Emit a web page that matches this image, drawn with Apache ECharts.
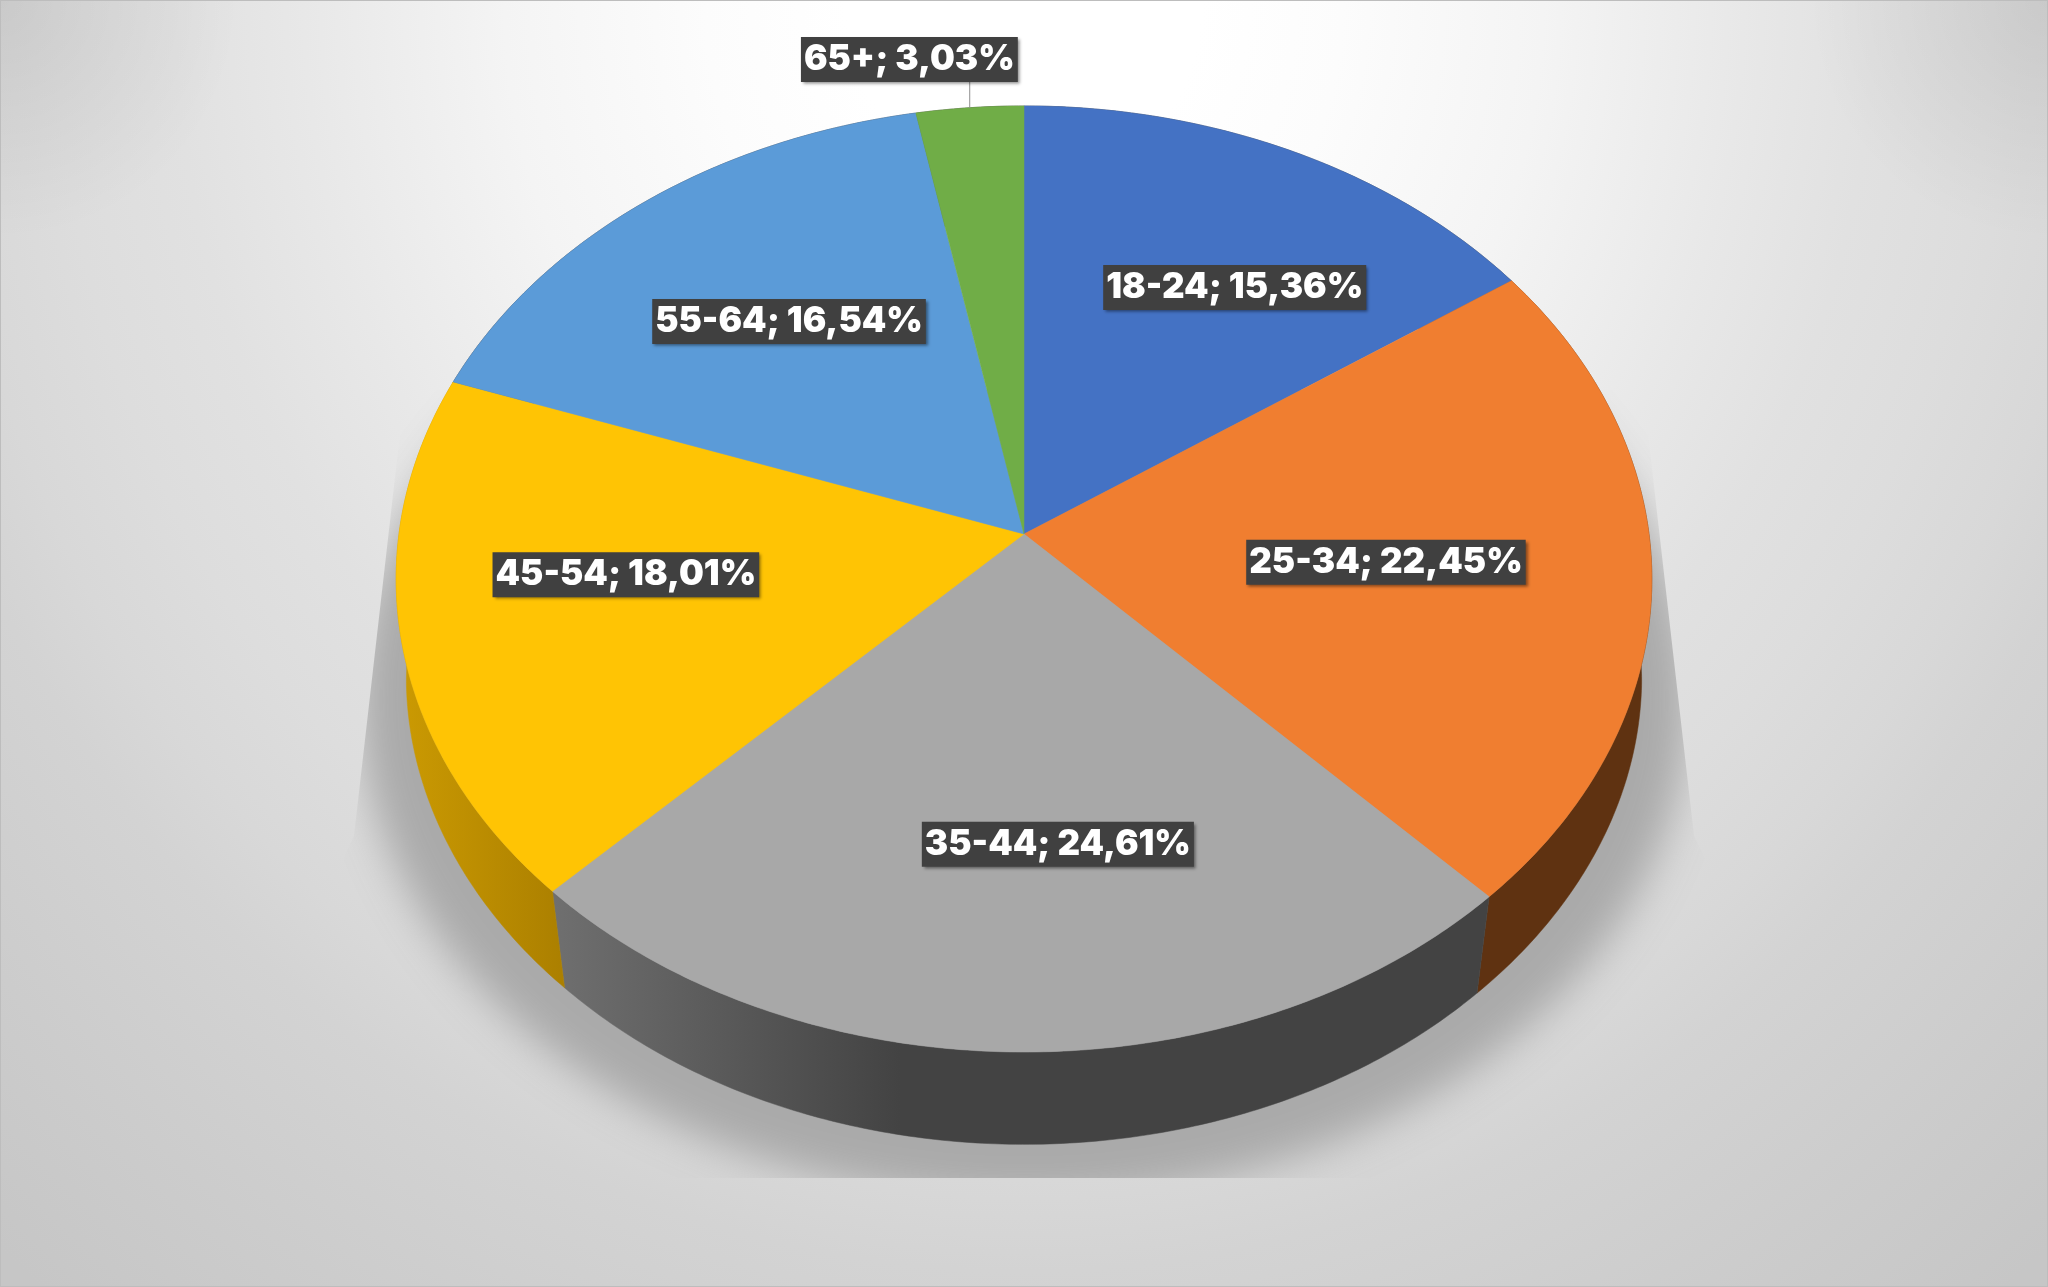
<!DOCTYPE html>
<html>
<head>
<meta charset="utf-8">
<style>
html,body{margin:0;padding:0;width:2048px;height:1287px;overflow:hidden}
#wrap{width:2048px;height:1287px;box-shadow:inset 0 0 0 1px #bdbdbd;
background:
radial-gradient(circle 240px at 0 0,rgba(0,0,0,.08),rgba(0,0,0,0)),
radial-gradient(circle 240px at 2048px 0,rgba(0,0,0,.08),rgba(0,0,0,0)),
radial-gradient(ellipse 1180px 1290px at 1024px 0px,#ffffff 0%,#ffffff 15%,#fcfcfc 27%,#f4f4f4 44%,#e8e8e8 61%,#e1e1e1 72%,#dddddd 82%,#d8d8d8 91.5%,#d3d3d3 98.5%,#cccccc 115%,#c6c6c6 130%)}
#chart{width:2048px;height:1287px}
</style>
<script src="https://cdn.jsdelivr.net/npm/echarts@6/dist/echarts.min.js"></script>
</head>
<body>
<div id="wrap"><div id="chart"></div></div>
<script>
// Data
const categories = ['18-24','25-34','35-44','45-54','55-64','65+'];
const shares = [15.36,22.45,24.61,18.01,16.54,3.03];

// Style
const topColors = ['#4472c4','#f07e30','#a8a8a8','#ffc404','#5b9bd8','#70ad47'];
const CX = 1024, CY = 534, AX = 625, AY = 418, PERSP = 0.0951;
const VPY = 4575, DEPTH = 0.0262;
// label centres on the disc plane (unit disc coordinates)
const labelSpots = [[0.355,-0.557],[0.576,0.057],[0.051,0.620],[-0.632,0.083],[-0.393,-0.477],[-0.203,-1.124]];

const chart = echarts.init(document.getElementById('chart'), null, {renderer:'canvas'});
const total = shares.reduce((a,b)=>a+b,0);
const cum = [0];
shares.forEach(v=>cum.push(cum[cum.length-1]+v));

function project(u,v){
  const d = 1 - PERSP*v;
  return [CX + AX*u/d, (AY*v + CY)/d];
}
function lower(p){
  const vv = Math.max(0,(p[1]-578)/473);
  const kx = DEPTH*Math.min(1,0.62+0.55*vv);
  return [p[0] + (CX-p[0])*kx, p[1] + (VPY-p[1])*DEPTH];
}
function rim(a){ return project(Math.sin(a), -Math.cos(a)); }
function arcPts(a0,a1){
  const n = Math.max(4, Math.ceil((a1-a0)/0.01));
  const out=[];
  for(let i=0;i<=n;i++) out.push(rim(a0+(a1-a0)*i/n));
  return out;
}
function angles(i){
  return [cum[i]/total*2*Math.PI, cum[i+1]/total*2*Math.PI];
}
function sideFill(i){
  if(i===1) return '#5f3211';
  if(i===2) return new echarts.graphic.LinearGradient(555,0,900,0,[{offset:0,color:'#6f6f6f'},{offset:1,color:'#434343'}],true);
  if(i===3) return new echarts.graphic.LinearGradient(400,0,560,0,[{offset:0,color:'#cb9a02'},{offset:1,color:'#ac8000'}],true);
  return '#404040';
}

// The shape itself sits off-canvas so that only its blurred shadow is painted.
const SHADOW_SHIFT = 4000;
const shadowPts = [];
for(let i=0;i<240;i++){
  const a=i/240*2*Math.PI;
  shadowPts.push([CX+Math.sin(a)*665-SHADOW_SHIFT, 700-Math.cos(a)*500]);
}
const shadowClip = [[405,390],[354,836],[300,950],[300,1178],[1750,1178],[1750,950],[1694,836],[1643,390]];

const option = {
  backgroundColor:'transparent',
  animation:false,
  series:[
    {
      type:'custom', coordinateSystem:'none', silent:true, z:1,
      data:[1],
      renderItem(){
        return {
          type:'polygon',
          shape:{points:shadowPts},
          style:{fill:'#aeaeae',shadowBlur:42,shadowColor:'#aaaaaa',shadowOffsetX:SHADOW_SHIFT},
          clipPath:{type:'polygon',shape:{points:shadowClip}}
        };
      }
    },
    {
      type:'custom', coordinateSystem:'none', silent:true, z:2,
      data:shares,
      renderItem(params){
        const [a0,a1]=angles(params.dataIndex);
        const upper=arcPts(a0,a1);
        const low=upper.map(lower).reverse();
        const fill=sideFill(params.dataIndex);
        return {type:'polygon',shape:{points:upper.concat(low)},style:{fill:fill,stroke:fill,lineWidth:0.5}};
      }
    },
    {
      type:'custom', coordinateSystem:'none', silent:true, z:3,
      data:shares,
      renderItem(params){
        const i=params.dataIndex;
        const [a0,a1]=angles(i);
        const pts=[project(0,0)].concat(arcPts(a0,a1));
        return {type:'polygon',shape:{points:pts},style:{fill:topColors[i],stroke:topColors[i],lineWidth:0.5}};
      }
    },
    {
      type:'custom', coordinateSystem:'none', silent:true, z:4,
      data:shares,
      renderItem(params,api){
        const i=params.dataIndex;
        const val=api.value(0);
        const [a0,a1]=angles(i);
        const c=project(labelSpots[i][0],labelSpots[i][1]);
        const children=[];
        if(i===5){
          const r=rim((a0+a1)/2);
          children.push({type:'line',shape:{x1:r[0],y1:r[1],x2:r[0],y2:c[1]},style:{stroke:'#8f8f8f',lineWidth:1}});
        }
        children.push({
          type:'text',
          x:c[0],y:c[1]+1.5,
          style:{
            text:categories[i]+'; '+val.toFixed(2).replace('.',',')+'%',
            fill:'#ffffff',
            fontFamily:'Inter',fontWeight:900,fontSize:35,
            align:'center',verticalAlign:'middle',
            backgroundColor:'#404040',
            padding:[6,3,4,3],
            shadowColor:'rgba(0,0,0,0.45)',shadowBlur:3,shadowOffsetX:2,shadowOffsetY:2
          }
        });
        return {type:'group',children};
      }
    }
  ]
};
chart.setOption(option);
</script>
</body>
</html>
